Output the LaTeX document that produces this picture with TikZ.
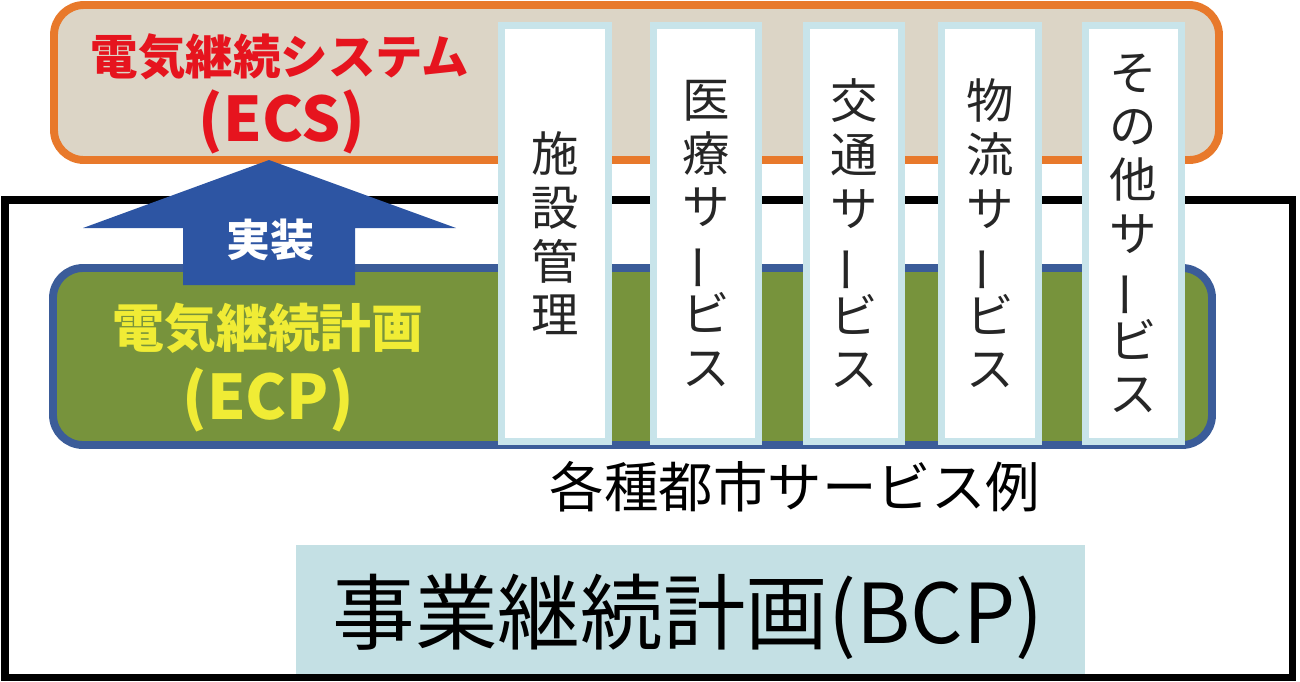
\documentclass[tikz,border=0pt]{standalone}
\usepackage{fontspec}
\setmainfont{Noto Sans CJK JP}
\definecolor{ecsline}{HTML}{E8792B}
\definecolor{ecsfill}{HTML}{DCD5C6}
\definecolor{ecpline}{HTML}{3B5C99}
\definecolor{ecpfill}{HTML}{77933C}
\definecolor{arrowblue}{HTML}{2D55A3}
\definecolor{svcline}{HTML}{C8E4EA}
\definecolor{bcpfill}{HTML}{C4E0E4}
\definecolor{ecsred}{HTML}{E6141E}
\definecolor{ecpyellow}{HTML}{F0EC35}
\newcommand{\chouon}{\rotatebox[origin=c]{90}{ー}}

\begin{document}
\begin{tikzpicture}[x=0.02cm, y=-0.02cm,
  svc/.style={draw=svcline, line width=4pt, fill=white, inner sep=0pt,
    minimum height=8.32cm, align=center, text=black!85,
    font=\fontsize{27}{30.5}\selectfont},
  title/.style={inner sep=0pt, font=\bfseries\fontsize{27}{30}\selectfont}]
  \useasboundingbox (0,0) rectangle (1300,681);
  % the three layers
  \draw[ecsline, fill=ecsfill, line width=4.5pt, rounded corners=0.6cm] (54,5) rectangle (1219,160);
  \draw[black, line width=4pt] (5,200) rectangle (1292,677);
  \draw[ecpline, fill=ecpfill, line width=4.5pt, rounded corners=0.6cm] (53,268) rectangle (1212,445);
  \fill[arrowblue] (183,285) -- (183,228) -- (83,228) -- (269,160) -- (456,228) -- (355,228) -- (355,285) -- cycle;
  % city services
  \node[svc, minimum width=2.14cm] (fac) at (555,233.5) {施\\設\\管\\理};
  \node[svc, minimum width=2.10cm] (med) at (706,233.5) {医\\療\\サ\\\chouon\\ビ\\ス};
  \node[svc, minimum width=1.90cm] (tra) at (854,233.5) {交\\通\\サ\\\chouon\\ビ\\ス};
  \node[svc, minimum width=1.94cm] (log) at (990,233.5) {物\\流\\サ\\\chouon\\ビ\\ス};
  \node[svc, minimum width=1.92cm] (oth) at (1133.5,233.5) {そ\\の\\他\\サ\\\chouon\\ビ\\ス};
  \node[inner sep=0pt, font=\fontsize{31}{31}\selectfont] (ex) at (795,487) {各種都市サービス例};
  % business continuity
  \fill[bcpfill] (296,545) rectangle (1085,675);
  \node[inner sep=0pt, font=\fontsize{47}{47}\selectfont] (bcp) at (688,617) {事業継続計画(BCP)};
  \draw[black, line width=4pt] (296,677) -- (1085,677);
  % titles
  \node[title, text=ecsred] (ecs1) at (280,57) {電気継続システム};
  \node[title, text=ecsred, font=\bfseries\fontsize{35}{35}\selectfont] (ecs2) at (282,122) {(ECS)};
  \node[title, text=ecpyellow, font=\bfseries\fontsize{29.5}{30}\selectfont] (ecp1) at (268,328) {電気継続計画};
  \node[title, text=ecpyellow, font=\bfseries\fontsize{35}{35}\selectfont] (ecp2) at (268,400) {(ECP)};
  \node[title, text=white, font=\bfseries\fontsize{25}{25}\selectfont] (impl) at (270,240) {実装};
\end{tikzpicture}
\end{document}
